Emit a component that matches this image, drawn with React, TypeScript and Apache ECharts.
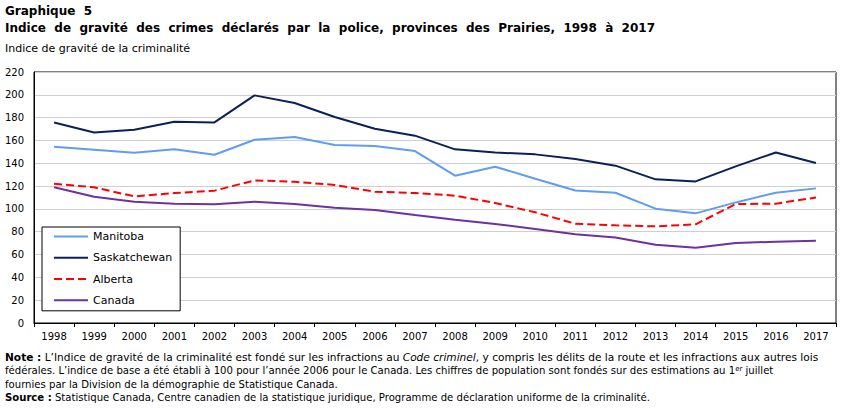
import React, { useEffect, useRef } from "react";
import * as echarts from "echarts";

const years = ["1998","1999","2000","2001","2002","2003","2004","2005","2006","2007","2008","2009","2010","2011","2012","2013","2014","2015","2016","2017"];
const manitoba = [154.5,151.9,149.3,152.2,147.5,160.6,163.0,156.0,155.1,150.7,129.1,137.0,126.5,116.2,114.2,100.2,96.1,105.7,114.2,118.0];
const saskatchewan = [175.8,167.0,169.4,176.4,175.8,199.5,192.8,180.5,170.3,164.2,152.2,149.5,147.8,143.7,137.9,125.9,124.1,137.3,149.5,140.2];
const alberta = [122.1,118.9,111.0,113.9,116.0,125.0,123.8,121.0,115.1,113.9,111.6,105.2,97.0,87.0,85.6,84.7,86.5,104.3,104.6,110.0];
const canada = [118.9,110.7,106.3,104.6,104.0,106.3,104.3,101.0,99.0,94.6,90.5,86.8,82.4,77.7,75.0,68.6,66.0,70.1,71.3,72.1];

const FONT = "DejaVu Sans";
const NOTE_SIZE_1 = 10.6;
const NOTE_SIZE = 10.1;

export default function App() {
  const ref = useRef<HTMLDivElement>(null);
  useEffect(() => {
    if (!ref.current) return;
    const chart = echarts.init(ref.current, undefined, { renderer: "svg" });
    const mk = (name: string, data: number[], color: string, type: string = "solid") => ({
      name,
      type: "line",
      data,
      symbol: "none",
      showSymbol: false,
      lineStyle: { color, width: 2, type },
      itemStyle: { color },
    });
    const noteStyle = {
      fontFamily: FONT,
      fontSize: NOTE_SIZE,
      fill: "#000",
    };
    chart.setOption({
      animation: false,
      textStyle: { fontFamily: FONT },
      grid: { left: 34, right: 15, top: 72, bottom: 85, show: true, borderColor: "#000", borderWidth: 1 },
      legend: {
        orient: "vertical",
        left: 42,
        top: 227,
        itemWidth: 34,
        itemHeight: 14,
        itemGap: 10,
        padding: [4, 8, 5, 11],
        borderColor: "#000",
        borderWidth: 1,
        backgroundColor: "#fff",
        itemStyle: { opacity: 0 },
        textStyle: { fontFamily: FONT, fontSize: 11, color: "#000" },
        data: ["Manitoba", "Saskatchewan", "Alberta", "Canada"],
      },
      xAxis: {
        type: "category",
        data: years,
        boundaryGap: true,
        axisLine: { lineStyle: { color: "#000", width: 1 } },
        axisTick: { show: true, length: 4, lineStyle: { color: "#000" } },
        axisLabel: { color: "#000", fontFamily: FONT, fontSize: 10, margin: 8 },
      },
      yAxis: {
        type: "value",
        min: 0,
        max: 220,
        interval: 20,
        axisLine: { show: true, lineStyle: { color: "#000", width: 1 } },
        axisTick: { show: false },
        axisLabel: { color: "#000", fontFamily: FONT, fontSize: 10, margin: 10 },
        splitLine: { lineStyle: { color: "#cfcfcf", width: 1 } },
      },
      series: [
        mk("Manitoba", manitoba, "#5f9cf2"),
        mk("Saskatchewan", saskatchewan, "#0b1f5a"),
        mk("Alberta", alberta, "#ff0000", "dashed"),
        mk("Canada", canada, "#7030a0"),
      ],
      graphic: [
        { type: "text", left: 5, top: 5, style: { text: "Graphique  5", fontFamily: FONT, fontSize: 12, fontWeight: "bold", fill: "#000" } },
        { type: "text", left: 5, top: 22, style: { text: "Indice  de  gravité  des  crimes  déclarés  par  la  police,  provinces  des  Prairies,  1998  à  2017", fontFamily: FONT, fontSize: 12, fontWeight: "bold", fill: "#000" } },
        { type: "text", left: 5, top: 43, style: { text: "Indice de gravité de la criminalité", fontFamily: FONT, fontSize: 11, fill: "#000" } },
        {
          type: "text", left: 5, top: 351,
          style: {
            text: "{b|Note :} L’Indice de gravité de la criminalité est fondé sur les infractions au {i|Code criminel}, y compris les délits de la route et les infractions aux autres lois",
            fontFamily: FONT,
            fontSize: NOTE_SIZE_1,
            fill: "#000",
            rich: { b: { fontWeight: "bold", fontFamily: FONT, fontSize: NOTE_SIZE_1 }, i: { fontStyle: "italic", fontFamily: FONT, fontSize: NOTE_SIZE_1 } },
          },
        },
        {
          type: "text", left: 5, top: 365,
          style: {
            text: "fédérales. L’indice de base a été établi à 100 pour l’année 2006 pour le Canada. Les chiffres de population sont fondés sur des estimations au 1{s|er} juillet",
            ...noteStyle,
            rich: { s: { fontFamily: FONT, fontSize: 7, verticalAlign: "top" } },
          },
        },
        { type: "text", left: 5, top: 379, style: { text: "fournies par la Division de la démographie de Statistique Canada.", ...noteStyle } },
        {
          type: "text", left: 5, top: 392,
          style: {
            text: "{b|Source :} Statistique Canada, Centre canadien de la statistique juridique, Programme de déclaration uniforme de la criminalité.",
            ...noteStyle,
            rich: { b: { fontWeight: "bold", fontFamily: FONT, fontSize: NOTE_SIZE } },
          },
        },
      ],
    });
    return () => chart.dispose();
  }, []);
  return <div ref={ref} style={{ width: 851, height: 408, position: "absolute", left: 0, top: 0 }} />;
}
